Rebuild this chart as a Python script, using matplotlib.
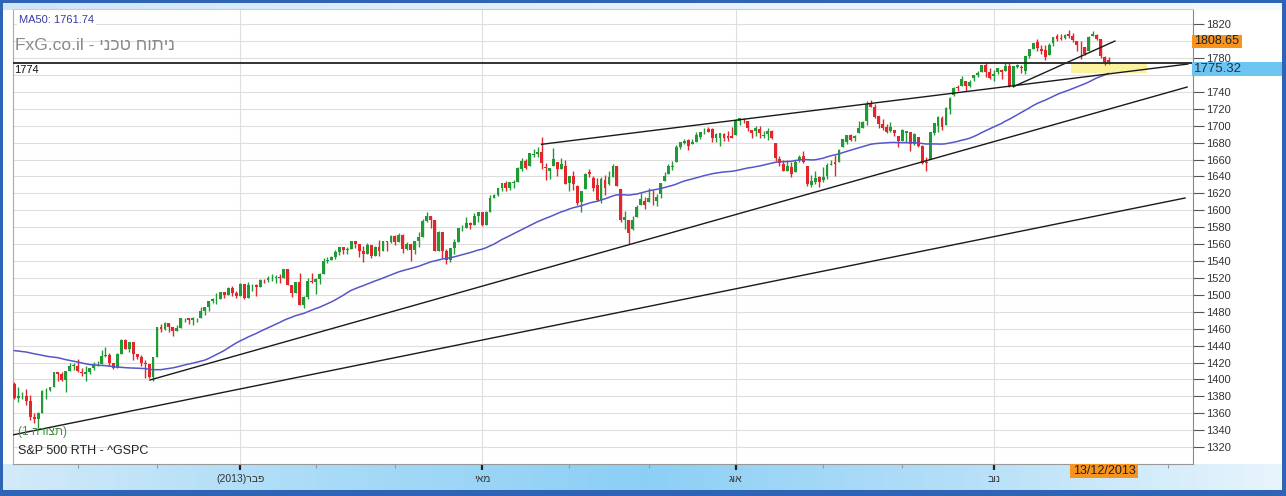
import numpy as np
import pandas as pd
import matplotlib
matplotlib.use("Agg")
import matplotlib.pyplot as plt
from matplotlib.patches import Rectangle
from matplotlib.colors import LinearSegmentedColormap

plt.rcParams['font.family'] = ['Liberation Sans', 'DejaVu Sans']

# S&P 500 daily candles, 8 Nov 2012 .. 13 Dec 2013 (one row of numbers per month)
opens = [
    1394.5, 1377.5, 1380.0, 1380.0, 1375.0, 1355.0, 1353.0, 1360.0, 1387.0, 1388.0, 1391.0, 1409.0, 1406.0, 1399.0, 1410.0, 1416.0,
    1416.0, 1409.0, 1407.0, 1409.0, 1413.9, 1418.0, 1418.6, 1427.8, 1428.5, 1419.5, 1413.5, 1430.5, 1446.8, 1435.8, 1443.7, 1430.2, 1426.7, 1419.8, 1418.1, 1402.4,
    1426.2, 1462.4, 1459.4, 1466.5, 1461.9, 1457.2, 1461.0, 1472.1, 1472.1, 1470.7, 1472.3, 1472.6, 1480.9, 1485.9, 1492.6, 1494.8, 1494.8, 1503.0, 1500.2, 1507.8, 1502.0,
    1498.1, 1513.2, 1495.7, 1511.3, 1512.1, 1509.4, 1517.9, 1517.0, 1519.4, 1520.3, 1521.4, 1519.8, 1530.9, 1512.0, 1502.4, 1515.6, 1487.9, 1496.9, 1516.0,
    1514.7, 1518.2, 1525.2, 1539.8, 1541.5, 1544.3, 1551.2, 1556.2, 1552.5, 1554.5, 1563.2, 1560.7, 1552.1, 1548.3, 1558.7, 1545.8, 1556.9, 1551.7, 1563.8, 1562.9,
    1569.2, 1562.2, 1570.3, 1553.7, 1560.0, 1553.3, 1563.1, 1568.6, 1587.7, 1593.4, 1588.9, 1552.4, 1574.6, 1552.0, 1541.6, 1555.3, 1562.5, 1578.8, 1578.8, 1585.2, 1582.3, 1593.6,
    1597.6, 1582.8, 1597.6, 1614.4, 1617.6, 1625.9, 1632.7, 1626.7, 1632.1, 1633.8, 1649.1, 1658.1, 1652.5, 1665.7, 1666.2, 1669.4, 1651.6, 1646.7, 1652.6, 1656.6, 1649.1, 1652.1,
    1631.7, 1640.7, 1629.0, 1609.9, 1625.3, 1644.7, 1638.6, 1629.9, 1612.2, 1635.5, 1630.6, 1639.8, 1651.8, 1624.6, 1588.6, 1588.8, 1577.5, 1592.3, 1606.4, 1611.1,
    1609.8, 1614.3, 1611.5, 1618.7, 1634.2, 1642.9, 1651.6, 1657.4, 1675.3, 1679.6, 1682.7, 1677.9, 1681.1, 1686.2, 1694.4, 1696.6, 1696.1, 1685.2, 1685.9, 1690.3, 1687.3, 1687.8,
    1689.4, 1706.1, 1708.0, 1705.8, 1695.3, 1693.4, 1696.1, 1688.4, 1690.7, 1693.9, 1679.6, 1661.2, 1655.3, 1646.8, 1650.7, 1645.0, 1659.9, 1664.3, 1652.5, 1630.3, 1633.5, 1638.9,
    1635.9, 1640.7, 1653.3, 1657.4, 1656.9, 1675.1, 1681.0, 1689.2, 1685.0, 1691.7, 1697.7, 1705.7, 1727.3, 1722.4, 1711.4, 1702.6, 1698.0, 1694.0, 1695.5, 1687.3,
    1682.4, 1691.9, 1692.4, 1678.8, 1687.2, 1676.2, 1657.0, 1660.9, 1691.1, 1699.9, 1709.2, 1700.5, 1720.2, 1736.7, 1745.2, 1746.5, 1752.3, 1747.5, 1756.0, 1759.4, 1763.0, 1772.3, 1763.2,
    1758.7, 1763.4, 1765.7, 1765.0, 1770.7, 1748.4, 1770.0, 1769.5, 1764.4, 1782.8, 1790.7, 1798.8, 1790.8, 1789.6, 1783.5, 1797.2, 1806.3, 1802.9, 1803.5, 1808.5,
    1806.6, 1800.1, 1793.6, 1792.8, 1788.4, 1806.2, 1807.5, 1802.8, 1781.7, 1778.0,
]
highs = [
    1397.0, 1391.0, 1384.9, 1388.8, 1381.0, 1360.6, 1362.0, 1387.0, 1389.8, 1391.3, 1409.2, 1409.0, 1409.0, 1410.0, 1419.7, 1418.9,
    1423.7, 1413.0, 1415.6, 1413.9, 1420.3, 1421.6, 1434.3, 1438.6, 1431.4, 1419.5, 1430.7, 1448.0, 1447.8, 1443.7, 1443.7, 1430.2, 1429.4, 1422.8, 1418.1, 1426.7,
    1462.4, 1465.5, 1467.9, 1466.5, 1461.9, 1464.7, 1472.3, 1472.8, 1472.1, 1473.3, 1473.0, 1485.2, 1485.9, 1492.6, 1496.1, 1502.3, 1503.3, 1503.2, 1509.3, 1509.9, 1504.2,
    1514.4, 1513.2, 1515.0, 1512.5, 1512.9, 1518.3, 1518.3, 1522.3, 1524.7, 1523.1, 1524.2, 1530.9, 1530.9, 1512.0, 1515.6, 1525.8, 1498.9, 1520.1, 1525.3,
    1520.0, 1525.3, 1543.5, 1545.3, 1545.8, 1552.5, 1556.3, 1556.8, 1556.4, 1563.3, 1563.6, 1560.7, 1557.3, 1561.6, 1558.7, 1557.7, 1564.9, 1563.9, 1564.0, 1570.3,
    1570.6, 1573.7, 1571.5, 1562.6, 1560.0, 1563.1, 1573.9, 1589.1, 1597.4, 1593.4, 1588.9, 1575.4, 1574.6, 1554.4, 1555.9, 1565.6, 1579.6, 1583.0, 1592.6, 1585.8, 1596.6, 1597.6,
    1597.6, 1598.6, 1618.5, 1619.8, 1626.0, 1632.8, 1635.0, 1633.7, 1636.0, 1651.1, 1661.5, 1660.5, 1667.5, 1672.8, 1674.9, 1687.2, 1655.5, 1649.8, 1674.2, 1656.6, 1661.9, 1659.0,
    1640.4, 1646.5, 1629.3, 1622.6, 1644.4, 1648.7, 1640.1, 1637.7, 1639.3, 1641.2, 1646.5, 1654.2, 1652.5, 1624.6, 1599.0, 1588.8, 1593.8, 1606.8, 1620.1, 1615.9,
    1626.6, 1624.3, 1619.0, 1632.1, 1644.7, 1654.2, 1657.9, 1676.6, 1680.2, 1684.5, 1683.7, 1684.8, 1693.1, 1692.1, 1697.6, 1698.8, 1696.8, 1690.9, 1691.9, 1690.9, 1693.2, 1698.4,
    1707.9, 1709.7, 1709.2, 1705.8, 1695.3, 1700.2, 1699.4, 1693.8, 1696.8, 1695.5, 1679.6, 1663.6, 1659.2, 1658.9, 1657.0, 1659.6, 1664.9, 1669.5, 1652.5, 1641.2, 1646.4, 1640.1,
    1651.4, 1655.7, 1659.2, 1664.8, 1672.4, 1684.1, 1689.1, 1690.0, 1688.7, 1705.0, 1705.5, 1729.4, 1729.9, 1725.2, 1711.4, 1707.6, 1701.7, 1703.9, 1695.5, 1687.3,
    1696.6, 1693.9, 1692.4, 1691.9, 1687.2, 1676.8, 1662.5, 1692.6, 1703.4, 1711.0, 1711.6, 1721.8, 1733.4, 1745.3, 1747.8, 1759.3, 1752.3, 1753.9, 1759.8, 1765.0, 1772.1, 1775.2, 1768.5,
    1765.7, 1768.8, 1767.0, 1773.7, 1774.5, 1770.8, 1773.4, 1771.8, 1782.0, 1791.0, 1798.2, 1802.3, 1795.5, 1795.7, 1797.2, 1804.8, 1808.1, 1808.4, 1808.3, 1813.6,
    1810.0, 1800.1, 1799.8, 1792.8, 1806.0, 1811.5, 1808.5, 1803.0, 1783.0, 1780.9,
]
lows = [
    1377.0, 1373.0, 1377.0, 1370.0, 1352.0, 1348.0, 1343.0, 1360.0, 1377.0, 1386.0, 1391.0, 1397.7, 1397.7, 1385.0, 1410.0, 1411.6,
    1408.5, 1403.9, 1398.2, 1405.9, 1410.9, 1415.6, 1418.6, 1426.7, 1416.0, 1411.9, 1413.5, 1430.5, 1435.8, 1432.8, 1422.6, 1424.7, 1416.4, 1401.8, 1401.6, 1398.1,
    1426.2, 1455.5, 1458.6, 1456.6, 1451.6, 1457.2, 1461.0, 1467.6, 1465.7, 1463.8, 1467.6, 1472.6, 1475.8, 1481.2, 1489.9, 1489.5, 1494.8, 1496.3, 1500.2, 1498.1, 1496.8,
    1498.1, 1495.0, 1495.7, 1504.7, 1498.5, 1509.4, 1513.6, 1515.6, 1515.9, 1514.0, 1514.1, 1519.8, 1511.4, 1497.3, 1502.4, 1487.9, 1485.0, 1494.9, 1514.5,
    1501.5, 1512.3, 1525.2, 1538.1, 1541.5, 1542.9, 1547.4, 1548.2, 1548.3, 1554.5, 1555.7, 1545.1, 1538.6, 1548.3, 1543.3, 1545.8, 1546.2, 1551.7, 1551.5, 1561.1,
    1558.5, 1562.2, 1549.8, 1552.5, 1539.5, 1548.6, 1556.9, 1568.6, 1586.2, 1579.0, 1552.3, 1552.4, 1543.7, 1536.0, 1539.4, 1548.2, 1562.5, 1575.8, 1578.8, 1577.6, 1582.3, 1586.5,
    1581.3, 1582.8, 1597.6, 1614.2, 1616.8, 1622.7, 1623.1, 1623.7, 1626.7, 1633.8, 1646.7, 1648.6, 1652.5, 1663.5, 1662.7, 1648.9, 1635.5, 1636.6, 1652.6, 1640.0, 1648.6, 1630.7,
    1622.7, 1623.6, 1606.8, 1598.2, 1625.3, 1639.3, 1622.9, 1610.9, 1608.1, 1618.5, 1630.3, 1639.8, 1628.9, 1586.0, 1577.7, 1560.3, 1577.1, 1592.3, 1606.4, 1601.2,
    1609.8, 1606.8, 1604.6, 1614.7, 1634.2, 1642.9, 1647.7, 1657.4, 1672.3, 1677.9, 1671.8, 1677.9, 1681.1, 1684.1, 1690.7, 1692.1, 1680.9, 1680.2, 1676.0, 1681.9, 1682.4, 1684.9,
    1689.4, 1700.7, 1703.6, 1693.3, 1684.9, 1688.4, 1686.0, 1685.6, 1682.6, 1684.8, 1658.6, 1652.6, 1646.1, 1646.1, 1639.4, 1645.0, 1656.6, 1656.0, 1629.1, 1627.5, 1630.9, 1628.0,
    1633.4, 1637.4, 1653.1, 1640.6, 1656.9, 1675.1, 1678.7, 1682.0, 1682.2, 1691.7, 1697.7, 1700.4, 1721.9, 1708.9, 1697.1, 1694.9, 1691.9, 1693.1, 1688.0, 1675.0,
    1682.1, 1680.3, 1670.4, 1677.3, 1674.7, 1655.0, 1646.5, 1660.9, 1688.5, 1692.1, 1695.5, 1700.5, 1714.1, 1735.7, 1740.7, 1746.5, 1740.5, 1745.5, 1752.5, 1757.7, 1763.0, 1757.2, 1755.7,
    1752.7, 1761.6, 1755.8, 1764.4, 1746.2, 1746.2, 1767.8, 1762.3, 1760.6, 1780.2, 1790.7, 1788.0, 1784.7, 1777.2, 1783.5, 1794.7, 1800.6, 1800.8, 1802.8, 1804.0,
    1798.6, 1787.9, 1779.1, 1783.4, 1788.4, 1806.2, 1801.9, 1780.1, 1772.3, 1772.4,
]
closes = [
    1377.5, 1379.9, 1380.0, 1374.5, 1355.5, 1353.3, 1359.9, 1386.9, 1387.8, 1391.0, 1409.2, 1406.3, 1398.9, 1409.9, 1415.9, 1416.2,
    1409.5, 1407.1, 1409.3, 1413.9, 1418.1, 1418.6, 1427.8, 1428.5, 1419.5, 1413.6, 1430.4, 1446.8, 1435.8, 1443.7, 1430.2, 1426.7, 1419.8, 1418.1, 1402.4, 1426.2,
    1462.4, 1459.4, 1466.5, 1461.9, 1457.2, 1461.0, 1472.1, 1472.1, 1470.7, 1472.3, 1472.6, 1480.9, 1485.9, 1492.6, 1494.8, 1494.8, 1503.0, 1500.2, 1507.8, 1502.0, 1498.1,
    1513.2, 1495.7, 1511.3, 1512.1, 1509.4, 1517.9, 1517.0, 1519.4, 1520.3, 1521.4, 1519.8, 1530.9, 1512.0, 1502.4, 1515.6, 1487.9, 1496.9, 1516.0, 1514.7,
    1518.2, 1525.2, 1539.8, 1541.5, 1544.3, 1551.2, 1556.2, 1552.5, 1554.5, 1563.2, 1560.7, 1552.1, 1548.3, 1558.7, 1545.8, 1556.9, 1551.7, 1563.8, 1562.9, 1569.2,
    1562.2, 1570.3, 1553.7, 1560.0, 1553.3, 1563.1, 1568.6, 1587.7, 1593.4, 1588.9, 1552.4, 1574.6, 1552.0, 1541.6, 1555.3, 1562.5, 1578.8, 1578.8, 1585.2, 1582.2, 1593.6, 1597.6,
    1582.7, 1597.6, 1614.4, 1617.5, 1626.0, 1632.7, 1626.7, 1633.7, 1633.8, 1650.3, 1658.8, 1650.5, 1667.5, 1666.3, 1669.2, 1655.4, 1650.5, 1649.6, 1660.1, 1648.4, 1654.4, 1630.7,
    1640.4, 1631.4, 1608.9, 1622.6, 1643.4, 1642.8, 1626.1, 1612.5, 1636.4, 1626.7, 1639.0, 1651.8, 1628.9, 1588.2, 1592.4, 1573.1, 1588.0, 1603.3, 1613.2, 1606.3,
    1615.0, 1614.1, 1615.4, 1631.9, 1640.5, 1652.3, 1652.6, 1675.0, 1680.2, 1682.5, 1676.3, 1680.9, 1689.4, 1692.1, 1695.5, 1692.4, 1685.9, 1690.3, 1691.7, 1685.3, 1686.0, 1685.7,
    1706.9, 1709.7, 1707.1, 1697.4, 1690.9, 1697.5, 1691.4, 1689.5, 1694.2, 1685.4, 1661.3, 1655.8, 1646.1, 1652.4, 1642.8, 1657.0, 1663.5, 1656.8, 1630.5, 1635.0, 1638.2, 1633.0,
    1639.8, 1653.1, 1655.1, 1655.2, 1671.7, 1684.0, 1689.1, 1683.4, 1688.0, 1697.6, 1704.8, 1725.5, 1722.3, 1709.9, 1701.8, 1697.4, 1692.8, 1698.7, 1691.8, 1681.6,
    1695.0, 1693.9, 1678.7, 1690.5, 1676.1, 1655.5, 1656.4, 1692.6, 1703.2, 1710.1, 1698.1, 1721.5, 1733.2, 1744.5, 1744.7, 1754.7, 1746.4, 1752.1, 1759.8, 1762.1, 1772.0, 1763.3, 1756.5,
    1761.6, 1767.9, 1763.0, 1770.5, 1747.2, 1770.6, 1771.9, 1767.7, 1782.0, 1790.6, 1798.2, 1791.5, 1787.9, 1781.4, 1795.9, 1804.8, 1802.5, 1802.8, 1807.2, 1805.8,
    1800.9, 1795.2, 1792.8, 1785.0, 1805.1, 1808.4, 1802.6, 1782.2, 1775.5, 1775.3,
]
# closes before the visible window, only needed so the MA50 starts at the left edge
pre_closes = [
    1409.3, 1410.5, 1399.5, 1406.6,
    1404.9, 1403.4, 1432.1, 1437.9, 1429.1, 1433.6, 1436.6, 1460.0, 1465.8, 1461.2, 1459.3, 1461.1, 1460.3, 1460.2, 1456.9, 1441.6, 1433.3, 1447.2, 1440.7,
    1444.5, 1445.8, 1451.0, 1461.4, 1460.9, 1455.9, 1441.5, 1432.6, 1432.8, 1428.6, 1440.1, 1454.9, 1460.9, 1457.3, 1433.2, 1433.8, 1413.1, 1408.8, 1413.0, 1411.9, 1412.2,
    1427.6, 1414.2, 1417.3, 1428.4, 1394.5,
]

# first trading day of each month (bar index) and the labelled quarter months
month_starts = [16, 36, 57, 76, 96, 118, 140, 160, 182, 204, 224, 247, 267, 291]
quarter_idx = [57, 118, 182, 247]


def rtl(s):
    # no bidi in matplotlib, so flip hebrew words for display
    return s[::-1]


quarter_labels = ['(2013)' + rtl('פבר'), rtl('מאי'), rtl('אוג'), rtl('נוב')]

# right axis ticks; 1760 and 1800 sit under the price tags in the original
price_ticks = list(range(1320, 1821, 20))
hidden_ticks = [1760, 1800]

# trend lines drawn on the chart: (bar, price) -> (bar, price)
trend_lines = [
    ((-0.4, 1334.4), (295.3, 1614.5)),
    ((34.2, 1399.3), (295.8, 1745.7)),
    ((133.0, 1678.0), (296.0, 1772.9)),
    ((252.0, 1746.2), (277.6, 1800.1)),
]
support_level = 1774
ma50_last = 1761.74
zone_bars = (266.5, 285.7)

W, H = 1286, 496
GREEN = '#1f9a35'
RED = '#e3262b'

fig = plt.figure(figsize=(W / 100, H / 100), dpi=100, facecolor='white')

# window chrome
bg = fig.add_axes([0, 0, 1, 1])
grad = np.linspace(0, 1, 256).reshape(1, -1)
top_cmap = LinearSegmentedColormap.from_list('top', ['#cfe6f7', '#e6f2fb', '#f3f9fd'])
bot_cmap = LinearSegmentedColormap.from_list('bot', ['#d3eaf9', '#a9dbf7', '#8ccff5', '#b5dff8', '#e9f5fc'])
bg.imshow(grad, cmap=top_cmap, extent=(0, W, 10, 0), aspect='auto')
bg.imshow(grad, cmap=bot_cmap, extent=(0, W, 491, 464), aspect='auto')
for r in [(0, 0, 3, H), (W - 4, 0, 4, H), (0, 0, W, 3), (0, 490, W, 6)]:
    bg.add_patch(Rectangle((r[0], r[1]), r[2], r[3], color='#2f63b6', lw=0))
bg.set_xlim(0, W)
bg.set_ylim(H, 0)
bg.axis('off')

ax = fig.add_axes([12.7 / W, (H - 464) / H, (1193 - 12.7) / W, (464 - 9.5) / H])
ax.set_facecolor('white')
ax.set_xlim(-0.4, 297.3)
ax.set_ylim(1300, 1837.4)

x = np.arange(len(closes))
o = np.array(opens)
hi = np.array(highs)
lo = np.array(lows)
c = np.array(closes)
cols = np.where(c >= o, GREEN, RED)

ax.add_patch(Rectangle((zone_bars[0], ma50_last), zone_bars[1] - zone_bars[0], support_level - ma50_last,
                       color='#fbf29e', lw=0, zorder=2))
ax.vlines(x, lo, hi, colors=cols, lw=1, zorder=3)
ax.bar(x, np.maximum(np.abs(c - o), 0.7), bottom=np.minimum(o, c), width=0.72,
       color=cols, lw=0, zorder=4)

ma = pd.Series(pre_closes + closes).rolling(50).mean().iloc[len(pre_closes):].to_numpy()
ax.plot(x, ma, color='#5656c8', lw=1.1, zorder=5)

for (x0, y0), (x1, y1) in trend_lines:
    ax.plot([x0, x1], [y0, y1], color='#1a1a1a', lw=1, zorder=6)
ax.axhline(support_level, color='#222222', lw=1.3, zorder=6)

# axes
ax.yaxis.tick_right()
ax.set_yticks(price_ticks)
ax.set_yticklabels(['' if t in hidden_ticks else str(t) for t in price_ticks])
ax.tick_params(axis='y', length=8, width=0.8, color='#555', pad=1.5, labelsize=8, labelcolor='#333')
ax.set_xticks(quarter_idx)
ax.set_xticklabels(quarter_labels, fontsize=7.5, color='#333')
ax.set_xticks(month_starts, minor=True)
ax.tick_params(axis='x', which='major', length=4, width=1.6, color='#222', pad=3)
ax.tick_params(axis='x', which='minor', length=3, width=0.8, color='#999')
ax.grid(True, which='major', color='#dedede', lw=0.8, zorder=0)
ax.set_axisbelow(True)
for side, col in [('left', '#aaaaaa'), ('top', '#cccccc'), ('bottom', '#999999'), ('right', '#888888')]:
    ax.spines[side].set_color(col)
    ax.spines[side].set_linewidth(0.8)


def fpos(px, py):
    return px / W, 1 - py / H


def px_box(x0, y0, w, h, color):
    fig.add_artist(Rectangle((x0 / W, 1 - (y0 + h) / H), w / W, h / H,
                             transform=fig.transFigure, color=color, lw=0, zorder=5))


fig.text(*fpos(19, 20), 'MA50: 1761.74', fontsize=8, color='#3a3aa6', va='center',
         bbox=dict(boxstyle='square,pad=0.15', fc='white', ec='none'), zorder=7)
fig.text(*fpos(15, 46), 'FxG.co.il - ' + rtl('ניתוח טכני'), fontsize=12.5, color='#8a8a8a', va='center', zorder=7)
fig.text(*fpos(14, 70), '1774', fontsize=8, color='#111', va='center', zorder=7)
fig.text(*fpos(18, 432), '(1 ' + rtl('תצורה') + ')', fontsize=8.5, color='#3d8f3d', va='center', zorder=7)
fig.text(*fpos(18, 451), 'S&P 500 RTH - ^GSPC', fontsize=9, color='#222', va='center', zorder=7)

px_box(1192, 35, 50, 13, '#f7941d')
fig.text(*fpos(1194, 41.5), '1808.65', fontsize=9, color='#222', va='center', zorder=7)
px_box(1192, 62, 90, 14, '#6cc4f0')
fig.text(*fpos(1194, 69.5), '1775.32', fontsize=9.5, color='#1c3550', va='center', zorder=7)
px_box(1070, 464, 68, 14, '#f7941d')
fig.text(*fpos(1104, 471), '13/12/2013', fontsize=9, color='#222', va='center', ha='center', zorder=7)

plt.savefig('out.png', dpi=100)
